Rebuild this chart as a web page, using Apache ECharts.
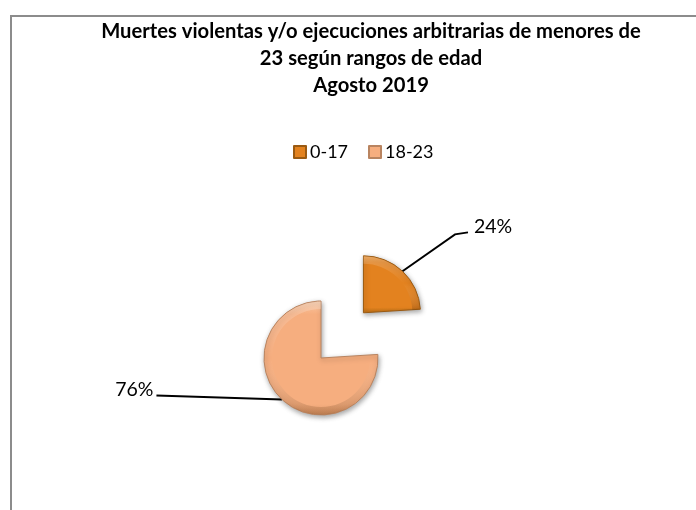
<!DOCTYPE html>
<html><head><meta charset="utf-8">
<style>html,body{margin:0;padding:0;background:#fff}#c{width:696px;height:510px}</style>
<script src="https://cdn.jsdelivr.net/npm/echarts@6/dist/echarts.min.js"></script>
</head><body><div id="c"></div>
<script>
const titleLines = ['Muertes violentas y/o ejecuciones arbitrarias de menores de','23 según rangos de edad','Agosto 2019'];
const categories = ['0-17','18-23'];
const values = [24,76];
const font = 'Lato, "Open Sans", sans-serif';
function bevel(light, main, dark){
  return {type:'linear',x:0,y:0,x2:0,y2:1,colorStops:[
    {offset:0,color:light},{offset:0.12,color:main},{offset:0.9,color:main},{offset:1,color:dark}]};
}
const fills = [bevel('#F09A3E','#E3821F','#B86D14'), bevel('#F9C8A4','#F6AE7F','#DE9A6C')];
const rim = {type:'linear',x:0,y:0,x2:0,y2:1,colorStops:[
  {offset:0,color:'rgba(255,255,255,0.22)'},{offset:0.5,color:'rgba(255,255,255,0)'},{offset:1,color:'rgba(90,40,0,0.25)'}]};
const labelShift = {'0-17':[32,-23],'18-23':[-89,-32]};
const chart = echarts.init(document.getElementById('c'));
chart.setOption({
  animation:false,
  backgroundColor:'#fff',
  title:{text:titleLines.join('\n'),left:366,top:13.5,textAlign:'center',
    textStyle:{fontFamily:font,fontSize:20.2,fontWeight:'bold',color:'#000',lineHeight:26.8}},
  legend:{data:categories,left:288,top:138,itemWidth:12,itemHeight:12,itemGap:20,icon:'rect',
    textStyle:{fontFamily:font,fontSize:18,color:'#000',padding:[0,0,0,-1]}},
  graphic:[{type:'polyline',silent:true,shape:{points:[[11,520],[11,16],[700,16]]},
    style:{fill:null,stroke:'#8c8c8c',lineWidth:2}}],
  series:[{type:'pie',center:[321,358],radius:[0,57],startAngle:90,selectedMode:'multiple',selectedOffset:62,
    data:categories.map((n,i)=>({name:n,value:values[i],selected:i===0,
      itemStyle:{color:fills[i],borderColor:i===0?'#9A5A12':'#B98460',borderWidth:1,
        shadowBlur:5,shadowColor:'rgba(0,0,0,0.35)',shadowOffsetX:1,shadowOffsetY:2}})),
    label:{show:true,position:'outside',formatter:'{d}%',fontFamily:font,fontSize:19.5,color:'#000',alignTo:'none'},
    labelLine:{show:true,length:30,length2:14,lineStyle:{color:'#000',width:2}},
    labelLayout:p=>{
      const s=labelShift[categories[p.dataIndex]];
      const r=p.labelRect, start=p.labelLinePoints[0];
      const cy=r.y+s[1]+r.height/2;
      const pts=p.dataIndex===0
        ? [start,[r.x+s[0]-19,cy+8],[r.x+s[0]-6,cy+6]]
        : [start,[r.x+s[0]+r.width+3,cy+6],[r.x+s[0]+r.width+3,cy+6]];
      return {dx:s[0],dy:s[1],labelLinePoints:pts};
    },
    emphasis:{disabled:true}
  },{type:'pie',center:[321,358],radius:[49,56.5],startAngle:90,selectedMode:'multiple',selectedOffset:62,silent:true,
    data:categories.map((n,i)=>({name:n,value:values[i],selected:i===0,itemStyle:{color:rim}})),
    label:{show:false},labelLine:{show:false},emphasis:{disabled:true},tooltip:{show:false}
  }]
});
</script></body></html>
